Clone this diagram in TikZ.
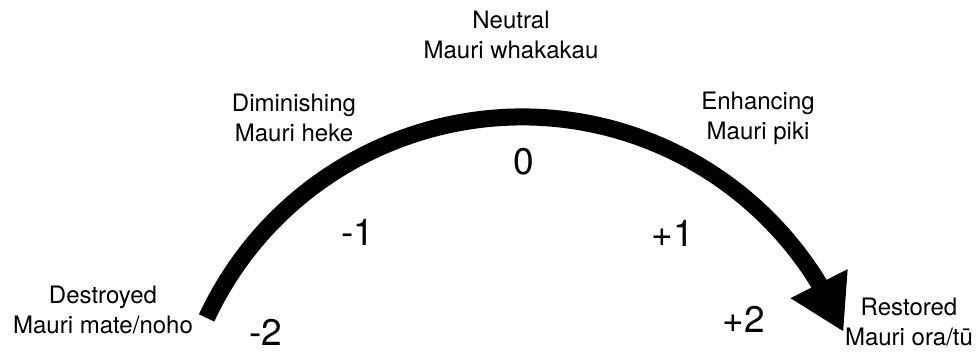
\documentclass[tikz,border=0pt]{standalone}
\usepackage{fontspec}
\setmainfont{TeX Gyre Heros}
\usepackage{tikz}
\usetikzlibrary{arrows.meta,bending,positioning,calc}

\begin{document}
\begin{tikzpicture}[x=1pt,y=-1pt,
	stage/.style={align=center,inner sep=0pt,font=\fontsize{24}{30}\selectfont},
	score/.style={inner sep=0pt,font=\fontsize{37}{37}\selectfont}]
	\useasboundingbox (0,0) rectangle (976,353);
	% centre and start of the arc
	\coordinate (centre) at (522,465);
	\coordinate (start) at ($(centre)+(205:348)$);
	\draw[line width=17pt, -{Triangle[length=54pt,width=60pt]}]
		(start) arc[start angle=205, end angle=337.5, radius=348];
	% stage names
	\node[stage] (destroyed) at (103,310) {Destroyed\\Mauri mate/noho};
	\node[stage] (diminishing) at (294,118) {Diminishing\\Mauri heke};
	\node[stage] (neutral) at (511,35) {Neutral\\Mauri whakakau};
	\node[stage] (enhancing) at (758,118) {Enhancing\\Mauri piki};
	\node[stage] (restored) at (909,322) {Restored\\Mauri ora/tū};
	% scores
	\node[score] (m2) at (266,332) {-2};
	\node[score] (m1) at (358,232) {-1};
	\node[score] (zero) at (524,162) {0};
	\node[score] (p1) at (673,233) {+1};
	\node[score] (p2) at (744,319) {+2};
\end{tikzpicture}
\end{document}
